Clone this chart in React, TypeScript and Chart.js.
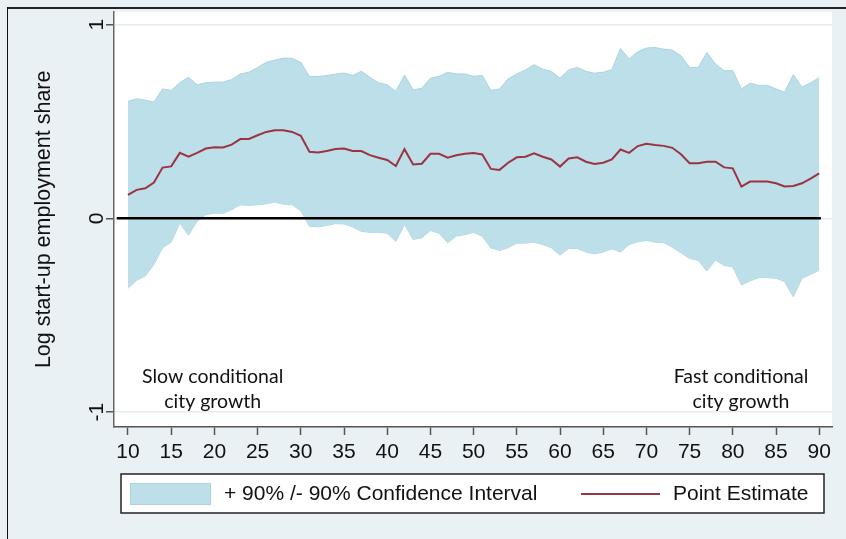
import React, { useEffect, useRef } from "react";
import { Chart, registerables } from "chart.js";

Chart.register(...registerables);

// ---- data ----
const xValues = [
  10, 11, 12, 13, 14, 15, 16, 17, 18, 19, 20, 21, 22, 23, 24, 25, 26, 27, 28, 29,
  30, 31, 32, 33, 34, 35, 36, 37, 38, 39, 40, 41, 42, 43, 44, 45, 46, 47, 48, 49,
  50, 51, 52, 53, 54, 55, 56, 57, 58, 59, 60, 61, 62, 63, 64, 65, 66, 67, 68, 69,
  70, 71, 72, 73, 74, 75, 76, 77, 78, 79, 80, 81, 82, 83, 84, 85, 86, 87, 88, 89, 90,
];

const upperCI = [
  0.603, 0.617, 0.61, 0.6, 0.668, 0.66, 0.7, 0.728, 0.689, 0.7, 0.703, 0.703, 0.716, 0.745, 0.754, 0.779, 0.805, 0.817, 0.827, 0.826,
  0.805, 0.732, 0.732, 0.737, 0.744, 0.75, 0.737, 0.759, 0.728, 0.7, 0.689, 0.655, 0.74, 0.663, 0.671, 0.723, 0.733, 0.754, 0.745, 0.745,
  0.733, 0.737, 0.66, 0.668, 0.72, 0.745, 0.766, 0.793, 0.77, 0.759, 0.723, 0.766, 0.779, 0.759, 0.749, 0.754, 0.767, 0.877, 0.822, 0.86,
  0.879, 0.882, 0.873, 0.868, 0.839, 0.779, 0.779, 0.856, 0.796, 0.762, 0.762, 0.668, 0.697, 0.686, 0.686, 0.668, 0.651, 0.742, 0.677, 0.7, 0.726,
];

const pointEstimate = [
  0.121, 0.147, 0.155, 0.185, 0.262, 0.268, 0.338, 0.318, 0.338, 0.36, 0.367, 0.366, 0.38, 0.409, 0.41, 0.429, 0.446, 0.454, 0.454, 0.446,
  0.426, 0.344, 0.34, 0.348, 0.358, 0.36, 0.348, 0.347, 0.326, 0.313, 0.301, 0.27, 0.357, 0.278, 0.282, 0.333, 0.333, 0.313, 0.326, 0.333,
  0.337, 0.33, 0.255, 0.25, 0.287, 0.315, 0.318, 0.335, 0.318, 0.304, 0.267, 0.309, 0.315, 0.292, 0.28, 0.287, 0.304, 0.355, 0.338, 0.373,
  0.385, 0.378, 0.374, 0.364, 0.331, 0.284, 0.284, 0.292, 0.292, 0.263, 0.258, 0.164, 0.19, 0.19, 0.19, 0.181, 0.164, 0.167, 0.181, 0.205, 0.232,
];

const lowerCI = [
  -0.361, -0.32, -0.297, -0.238, -0.152, -0.123, -0.024, -0.087, -0.015, 0.019, 0.027, 0.026, 0.045, 0.07, 0.067, 0.07, 0.075, 0.084, 0.073, 0.07,
  0.039, -0.041, -0.044, -0.037, -0.027, -0.029, -0.044, -0.067, -0.072, -0.072, -0.077, -0.118, -0.032, -0.109, -0.101, -0.063, -0.077, -0.126, -0.092, -0.084,
  -0.072, -0.092, -0.152, -0.166, -0.152, -0.128, -0.128, -0.123, -0.135, -0.152, -0.19, -0.155, -0.155, -0.174, -0.183, -0.174, -0.157, -0.174, -0.135, -0.121,
  -0.114, -0.123, -0.125, -0.149, -0.178, -0.207, -0.217, -0.272, -0.215, -0.243, -0.251, -0.344, -0.323, -0.306, -0.306, -0.309, -0.326, -0.405, -0.31, -0.289, -0.268,
];

const xTicks = [10, 15, 20, 25, 30, 35, 40, 45, 50, 55, 60, 65, 70, 75, 80, 85, 90];
const yTicks = [-1, 0, 1];

const zeroLineX = [8.7, 90.2];
const zeroLineY = [0, 0];

const yTitle = "Log start-up employment share";
const bandLabel = "+ 90% /- 90% Confidence Interval";
const lineLabel = "Point Estimate";

const noteTexts = [
  ["Slow conditional", "city growth"],
  ["Fast conditional", "city growth"],
];
const noteX = [19.8, 80.95];
const noteY = [-0.82, -0.82];

// ---- styles ----
const BAND_FILL = "#bddfe9";
const BAND_EDGE = "#a9d4e2";
const LINE_COLOR = "#9b3442";
const OUTER_BG = "#e9f1f4";
const FONT = "'Liberation Sans', Arial, sans-serif";

const pts = (ys: number[]) => xValues.map((x, i) => ({ x, y: ys[i] }));

const decorPlugin = {
  id: "decor",
  beforeDraw(chart: any) {
    const { ctx, chartArea: a } = chart;
    ctx.save();
    ctx.fillStyle = "#ffffff";
    ctx.fillRect(a.left, a.top, a.right - a.left, a.bottom - a.top);
    ctx.restore();
  },
  afterDatasetsDraw(chart: any) {
    const { ctx } = chart;
    const xs = chart.scales.x;
    const ys = chart.scales.y;
    ctx.save();
    ctx.font = "19.5px Lato, 'Open Sans', sans-serif";
    ctx.fillStyle = "#111";
    ctx.textAlign = "center";
    ctx.textBaseline = "middle";
    noteTexts.forEach((lines, i) => {
      const px = xs.getPixelForValue(noteX[i]);
      const py = ys.getPixelForValue(noteY[i]);
      lines.forEach((t, j) => ctx.fillText(t, px, py + j * 25));
    });
    ctx.restore();
  },
  afterDraw(chart: any) {
    const { ctx } = chart;
    const a = chart.chartArea;
    const bx = a.left + 7;
    const bw = a.right - 8 - bx;
    const by = 474;
    const bh = 39;
    ctx.save();
    ctx.fillStyle = "#fff";
    ctx.fillRect(bx, by, bw, bh);
    ctx.strokeStyle = "#222";
    ctx.lineWidth = 1.5;
    ctx.strokeRect(bx, by, bw, bh);
    const cy = by + bh / 2 + 0.5;
    ctx.fillStyle = BAND_FILL;
    ctx.fillRect(bx + 9, cy - 11, 81, 22);
    ctx.strokeStyle = BAND_EDGE;
    ctx.lineWidth = 1;
    ctx.strokeRect(bx + 9.5, cy - 10.5, 80, 21);
    ctx.font = `21px ${FONT}`;
    ctx.fillStyle = "#111";
    ctx.textAlign = "left";
    ctx.textBaseline = "middle";
    ctx.fillText(bandLabel, bx + 103, cy);
    ctx.strokeStyle = LINE_COLOR;
    ctx.lineWidth = 2;
    ctx.beginPath();
    ctx.moveTo(581, cy);
    ctx.lineTo(660, cy);
    ctx.stroke();
    ctx.fillText(lineLabel, 673, cy);
    ctx.restore();
  },
};

export default function App() {
  const ref = useRef<HTMLCanvasElement | null>(null);

  useEffect(() => {
    if (!ref.current) return;
    const chart = new Chart(ref.current, {
      type: "line",
      data: {
        datasets: [
          {
            label: lineLabel,
            data: pts(pointEstimate),
            borderColor: LINE_COLOR,
            borderWidth: 2,
            pointRadius: 0,
            tension: 0,
            fill: false,
          },
          {
            label: "zero",
            data: zeroLineX.map((x, i) => ({ x, y: zeroLineY[i] })),
            borderColor: "#000",
            borderWidth: 2.5,
            pointRadius: 0,
            fill: false,
          },
          {
            label: bandLabel,
            data: pts(upperCI),
            borderColor: BAND_EDGE,
            borderWidth: 1,
            backgroundColor: BAND_FILL,
            pointRadius: 0,
            tension: 0,
            fill: "+1",
          },
          {
            label: "lower",
            data: pts(lowerCI),
            borderColor: BAND_EDGE,
            borderWidth: 1,
            pointRadius: 0,
            tension: 0,
            fill: false,
          },
        ],
      },
      options: {
        animation: false,
        responsive: false,
        maintainAspectRatio: false,
        devicePixelRatio: 1,
        layout: { padding: { left: 0, top: 9, right: 14, bottom: 72 } },
        plugins: {
          legend: { display: false },
          tooltip: { enabled: false },
        },
        scales: {
          x: {
            type: "linear",
            min: 8.38,
            max: 91.48,
            afterBuildTicks: (s: any) => {
              s.ticks = xTicks.map((v) => ({ value: v }));
            },
            afterFit: (s: any) => {
              s.height = 40;
            },
            grid: {
              drawOnChartArea: false,
              drawTicks: true,
              tickLength: 8,
              tickColor: "#555",
              tickWidth: 1.5,
            },
            border: { display: true, color: "#555", width: 1.5 },
            ticks: {
              autoSkip: false,
              maxRotation: 0,
              padding: 5,
              color: "#111",
              font: { family: FONT, size: 21 },
            },
          },
          y: {
            type: "linear",
            min: -1.077,
            max: 1.067,
            afterBuildTicks: (s: any) => {
              s.ticks = yTicks.map((v) => ({ value: v }));
            },
            afterFit: (s: any) => {
              s.width = 114;
            },
            grid: {
              drawOnChartArea: true,
              color: "#e4eef1",
              lineWidth: 1.5,
              drawTicks: true,
              tickLength: 8,
              tickColor: "#555",
              tickWidth: 1.5,
            },
            border: { display: true, color: "#666", width: 1.5 },
            ticks: {
              minRotation: 90,
              maxRotation: 90,
              crossAlign: "center",
              padding: -1,
              color: "#111",
              font: { family: FONT, size: 21 },
            },
            title: {
              display: true,
              text: yTitle,
              color: "#111",
              font: { family: FONT, size: 21.5 },
              padding: { top: 31, bottom: 0 },
            },
          },
        },
      },
      plugins: [decorPlugin],
    });
    return () => chart.destroy();
  }, []);

  return (
    <div style={{ position: "absolute", left: 0, top: 0, width: 846, height: 539, background: OUTER_BG, overflow: "hidden" }}>
      <canvas ref={ref} width={846} height={539} style={{ position: "absolute", left: 0, top: 0, width: 846, height: 539 }} />
      <div style={{ position: "absolute", left: 7, top: 7, width: 839, height: 2, background: "#222" }} />
      <div style={{ position: "absolute", left: 7, top: 7, width: 1, height: 532, background: "#111" }} />
    </div>
  );
}
